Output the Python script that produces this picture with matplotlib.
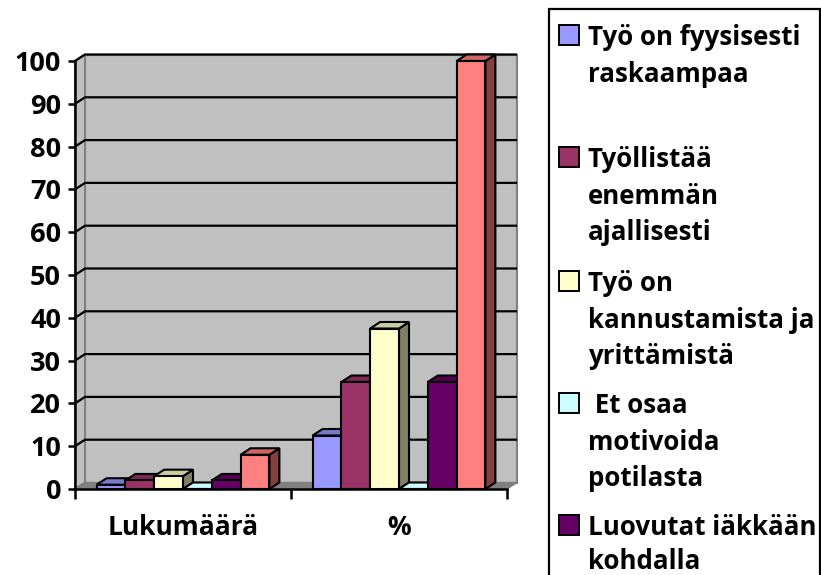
import matplotlib
matplotlib.use("Agg")
import matplotlib.pyplot as plt
from matplotlib.patches import Polygon, Rectangle
import matplotlib.colors as mcolors
import numpy as np

plt.rcParams['font.family'] = ['Open Sans', 'DejaVu Sans']
plt.rcParams['font.weight'] = 'bold'

categories = ["Lukumäärä", "%"]
series_names = ["Työ on fyysisesti\nraskaampaa\n",
                "Työllistää\nenemmän\najallisesti",
                "Työ on\nkannustamista ja\nyrittämistä",
                " Et osaa\nmotivoida\npotilasta",
                "Luovutat iäkkään\nkohdalla\n",
                "Muu"]
series_colors = ["#9999FF", "#993366", "#FFFFCC", "#CCFFFF", "#660066", "#FF8080"]
lukumaara = [1, 2, 3, 0, 2, 8]
prosentti = [12.5, 25, 37.5, 0, 25, 100]
values = np.array([lukumaara, prosentti])
yticks = [0, 10, 20, 30, 40, 50, 60, 70, 80, 90, 100]

W, H = 821, 575
fig = plt.figure(figsize=(W / 100, H / 100), dpi=100)

# plot area (pixel box of the front axis)
x0, x1, yb, yt = 75, 507, 489, 61
ax = fig.add_axes([x0 / W, (H - yb) / H, (x1 - x0) / W, (yb - yt) / H])
ax.set_xlim(0, 2)
ax.set_ylim(0, 100)

px_x = 2 / (x1 - x0)
px_y = 100 / (yb - yt)
dx = 10 * px_x
dy = 6.5 * px_y

wall = "#C0C0C0"
edge_gray = "#808080"

# back wall
ax.add_patch(Polygon([(dx, dy), (2 + dx, dy), (2 + dx, 100 + dy), (dx, 100 + dy)],
                     closed=True, fc=wall, ec=edge_gray, lw=1.5, clip_on=False, zorder=1))
# side wall
ax.add_patch(Polygon([(0, 0), (dx, dy), (dx, 100 + dy), (0, 100)],
                     closed=True, fc=wall, ec=edge_gray, lw=1.5, clip_on=False, zorder=1))
# gridlines
for t in yticks[1:]:
    ax.plot([0, dx, 2 + dx], [t, t + dy, t + dy], color="black", lw=1.6,
            clip_on=False, zorder=2, solid_capstyle='butt')
# floor
ax.add_patch(Polygon([(0, 0), (2, 0), (2 + dx, dy), (dx, dy)],
                     closed=True, fc=edge_gray, ec=edge_gray, lw=1, clip_on=False, zorder=2))


def shade(c, f):
    r, g, b = mcolors.to_rgb(c)
    return (r * f, g * f, b * f)


n = len(series_colors)
gap = 0.1
bw = (1 - 2 * gap) / n
z = 3
for gi in range(len(categories)):
    for si in range(n):
        v = values[gi, si]
        left = gi + gap + si * bw
        right = left + bw
        c = series_colors[si]
        # side face
        ax.add_patch(Polygon([(right, 0), (right + dx, dy), (right + dx, v + dy), (right, v)],
                             closed=True, fc=shade(c, 0.5), ec="black", lw=1.5,
                             clip_on=False, zorder=z, joinstyle='miter'))
        # top face
        ax.add_patch(Polygon([(left, v), (right, v), (right + dx, v + dy), (left + dx, v + dy)],
                             closed=True, fc=shade(c, 0.8) if v > 0 else c, ec="black", lw=1.5,
                             clip_on=False, zorder=z, joinstyle='miter'))
        # front face
        ax.bar(left, v, width=bw, align='edge', color=c, edgecolor="black",
               linewidth=1.5, clip_on=False, zorder=z)
        z += 1

ax.set_facecolor("none")
for s in ["top", "right"]:
    ax.spines[s].set_visible(False)
ax.spines["left"].set_linewidth(1.8)
ax.spines["bottom"].set_linewidth(1.8)
ax.spines["left"].set_zorder(50)
ax.spines["bottom"].set_zorder(50)

ax.set_yticks(yticks)
ax.set_yticklabels([str(t) for t in yticks], fontsize=19.5, fontweight='bold')
ax.tick_params(axis='y', direction='out', length=5, width=1.8, pad=5)
ax.set_xticks([0, 1, 2])
ax.set_xticklabels([])
ax.tick_params(axis='x', which='major', direction='out', length=7, width=1.8)
ax.set_xticks([0.5, 1.5], minor=True)
ax.set_xticklabels(categories, minor=True, fontsize=19, fontweight='bold')
ax.tick_params(axis='x', which='minor', length=0, pad=18)

# legend (drawn in pixel coordinates of the figure)
lg = fig.add_axes([0, 0, 1, 1], zorder=100)
lg.set_xlim(0, W)
lg.set_ylim(H, 0)
lg.axis("off")
lg.add_patch(Rectangle((549, 9), 271, 600, fc="white", ec="black", lw=1.6, clip_on=False))
entry_base = [45, 167, 291, 413, 535]
line_step = 36.5
for i, base in enumerate(entry_base):
    lg.add_patch(Rectangle((559, base - 20), 20, 20, fc=series_colors[i], ec="black", lw=1.4))
    for j, line in enumerate(series_names[i].split("\n")):
        if line:
            lg.text(588, min(base + j * line_step, 569), line, fontsize=18.6, fontweight='bold',
                    va='baseline', ha='left')

fig.savefig("out.png", dpi=100)
